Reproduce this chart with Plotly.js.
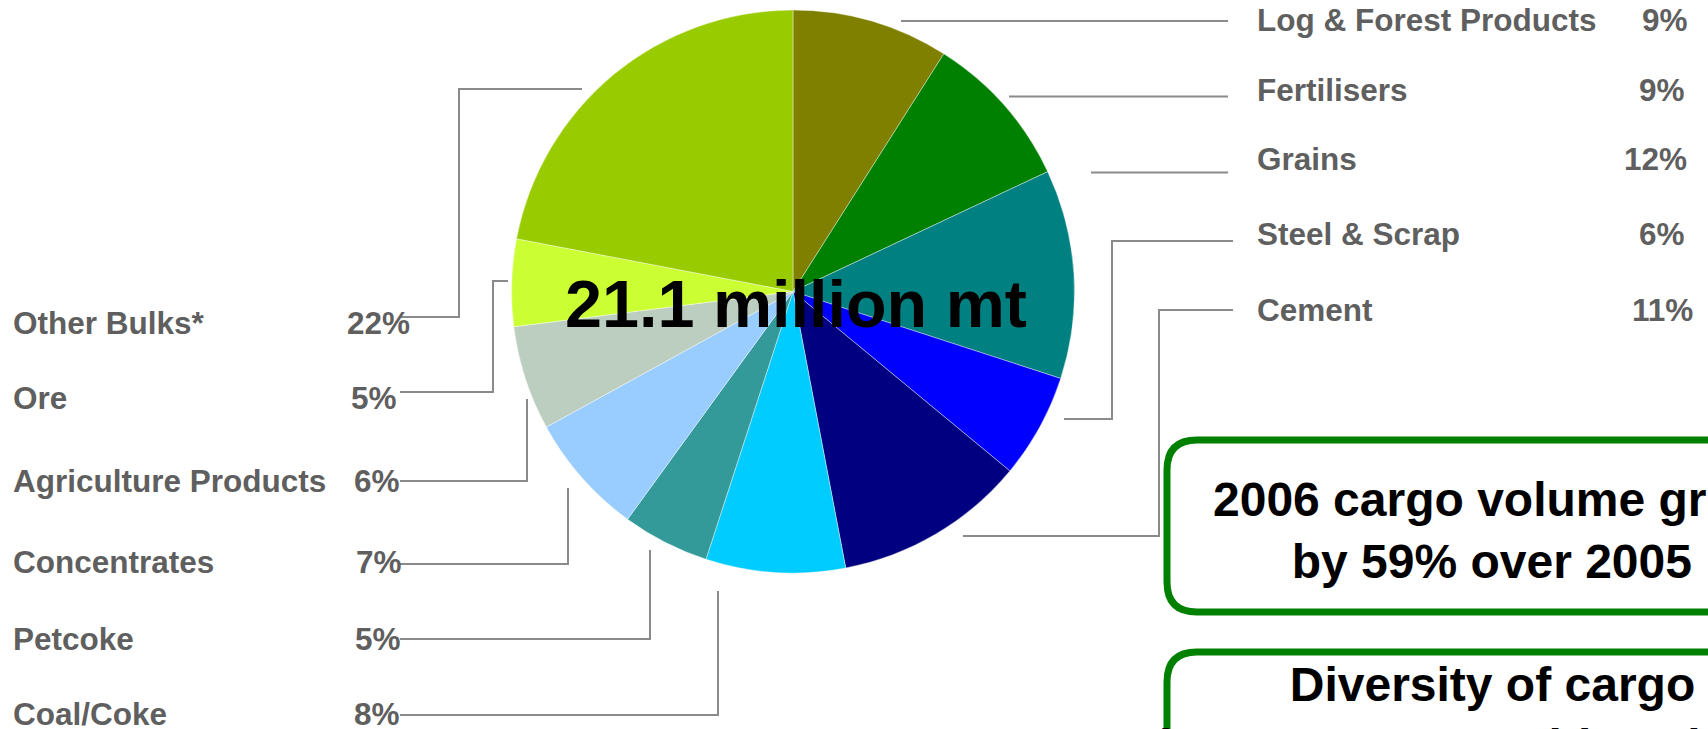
<!DOCTYPE html>
<html>
<head>
<meta charset="utf-8">
<script src="https://cdn.plot.ly/plotly-3.0.1.min.js"></script>
<style>
  html, body { margin: 0; padding: 0; background: #ffffff; }
  #chart { width: 1708px; height: 729px; }
</style>
</head>
<body>
<div id="chart"></div>
<script>
// ---------------- DATA ----------------
const categories = ['Log & Forest Products', 'Fertilisers', 'Grains', 'Steel & Scrap', 'Cement',
                    'Coal/Coke', 'Petcoke', 'Concentrates', 'Agriculture Products', 'Ore', 'Other Bulks*'];
const shares = [9, 9, 12, 6, 11, 8, 5, 7, 6, 5, 22];
const centerLabel = '21.1 million mt';
const callout1 = ['2006 cargo volume grew', 'by 59% over 2005'];
const callout2 = ['Diversity of cargo', 'base ensures stable volumes'];

// ---------------- STYLE / LAYOUT ----------------
const sliceColors = ['#808000', '#008000', '#008080', '#0000FF', '#000080',
                     '#00CCFF', '#339999', '#99CCFF', '#BCCEC0', '#CCFF33', '#99CC00'];
const W = 1708, H = 729;
const px = x => x / W;
const py = y => 1 - y / H;
const pieCenter = [793, 291.5];
const pieRadius = 281.5;
// label layout per category (pixel positions)
const labelSide = ['right', 'right', 'right', 'right', 'right', 'left', 'left', 'left', 'left', 'left', 'left'];
const labelY = [19.5, 89.5, 159, 234, 310, 714, 639, 562, 481, 398, 323];
const pctRightX = [1690, 1687, 1689, 1687, 1695, 402, 403, 404, 402, 399, 412];
const leaderPaths = [
  [[901, 21], [1228, 21]],
  [[1009, 96.5], [1228, 96.5]],
  [[1091, 172.5], [1228, 172.5]],
  [[1064, 419], [1112, 419], [1112, 241], [1233, 241]],
  [[963, 536], [1159, 536], [1159, 310], [1233, 310]],
  [[718, 591], [718, 715], [400, 715]],
  [[650, 550], [650, 639], [400, 639]],
  [[568, 488], [568, 564], [400, 564]],
  [[527, 399], [527, 481], [400, 481]],
  [[508, 281], [493, 281], [493, 392], [400, 392]],
  [[582, 89], [459, 89], [459, 317], [400, 317]]
];
const FONT = 'Liberation Sans, Arial, sans-serif';
const labelColor = '#5f5f5f';
const lineColor = '#8a8a8a';
const boxColor = '#008000';

const esc = s => s.replace(/&/g, '&amp;');

const trace = {
  type: 'pie',
  labels: categories,
  values: shares,
  sort: false,
  direction: 'clockwise',
  rotation: 0,
  textinfo: 'none',
  hoverinfo: 'none',
  showlegend: false,
  marker: { colors: sliceColors, line: { color: 'rgba(255,255,255,0.5)', width: 0.8 } },
  domain: {
    x: [px(pieCenter[0] - pieRadius), px(pieCenter[0] + pieRadius)],
    y: [py(pieCenter[1] + pieRadius), py(pieCenter[1] - pieRadius)]
  }
};

const annotations = [];
const shapes = [];

categories.forEach((name, i) => {
  const right = labelSide[i] === 'right';
  annotations.push({
    xref: 'paper', yref: 'paper', showarrow: false,
    x: px(right ? 1255 : 11), y: py(labelY[i]),
    xanchor: 'left', yanchor: 'middle',
    text: esc(name),
    font: { family: FONT, size: 31.5, color: labelColor, weight: 700 }
  });
  annotations.push({
    xref: 'paper', yref: 'paper', showarrow: false,
    x: px(pctRightX[i]), y: py(labelY[i]),
    xanchor: 'right', yanchor: 'middle',
    text: shares[i] + '%',
    font: { family: FONT, size: 31.5, color: labelColor, weight: 700 }
  });
  const pts = leaderPaths[i];
  const d = pts.map((p, k) => (k === 0 ? 'M ' : 'L ') + px(p[0]) + ',' + py(p[1])).join(' ');
  shapes.push({
    type: 'path', xref: 'paper', yref: 'paper', path: d,
    line: { color: lineColor, width: 2 }, layer: 'below'
  });
});

// center label
annotations.push({
  xref: 'paper', yref: 'paper', showarrow: false,
  x: px(795.5), y: py(303.5), xanchor: 'center', yanchor: 'middle',
  text: centerLabel,
  font: { family: FONT, size: 66.5, color: '#000000', weight: 700 }
});

function roundRect(x0, y0, x1, y1, r) {
  const P = (x, y) => px(x) + ',' + py(y);
  return 'M ' + P(x0 + r, y0) + ' L ' + P(x1 - r, y0) + ' Q ' + P(x1, y0) + ' ' + P(x1, y0 + r) +
         ' L ' + P(x1, y1 - r) + ' Q ' + P(x1, y1) + ' ' + P(x1 - r, y1) +
         ' L ' + P(x0 + r, y1) + ' Q ' + P(x0, y1) + ' ' + P(x0, y1 - r) +
         ' L ' + P(x0, y0 + r) + ' Q ' + P(x0, y0) + ' ' + P(x0 + r, y0) + ' Z';
}
shapes.push({ type: 'path', xref: 'paper', yref: 'paper', path: roundRect(1167, 440, 1817, 612, 30),
              line: { color: boxColor, width: 7 }, fillcolor: 'rgba(0,0,0,0)' });
shapes.push({ type: 'path', xref: 'paper', yref: 'paper', path: roundRect(1167, 652, 1817, 840, 30),
              line: { color: boxColor, width: 7 }, fillcolor: 'rgba(0,0,0,0)' });

annotations.push({
  xref: 'paper', yref: 'paper', showarrow: false,
  x: px(1492), y: py(530), xanchor: 'center', yanchor: 'middle', align: 'center',
  text: callout1.join('<br>'),
  font: { family: FONT, size: 48, color: '#000000', weight: 700 }
});
annotations.push({
  xref: 'paper', yref: 'paper', showarrow: false,
  x: px(1492), y: py(715.5), xanchor: 'center', yanchor: 'middle', align: 'center',
  text: callout2.join('<br>'),
  font: { family: FONT, size: 48, color: '#000000', weight: 700 }
});

const layout = {
  width: W, height: H,
  margin: { l: 0, r: 0, t: 0, b: 0, pad: 0 },
  paper_bgcolor: '#ffffff', plot_bgcolor: '#ffffff',
  showlegend: false,
  annotations: annotations,
  shapes: shapes
};

Plotly.newPlot('chart', [trace], layout, { staticPlot: true, displayModeBar: false });
</script>
</body>
</html>
